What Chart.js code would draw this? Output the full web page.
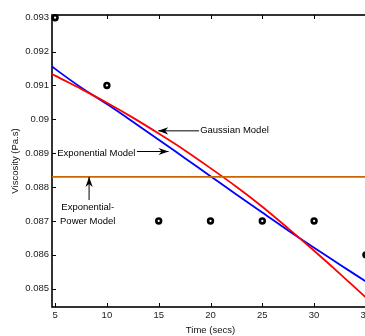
<!DOCTYPE html>
<html>
<head>
<meta charset="utf-8">
<script src="https://cdn.jsdelivr.net/npm/chart.js@4"></script>
<style>
  html, body { margin: 0; padding: 0; background: #fff; overflow: hidden; width: 365px; height: 336px; }
  #wrap { width: 390px; height: 336px; }
</style>
</head>
<body>
<div id="wrap"><canvas id="chart" width="390" height="336"></canvas></div>
<script>
// measured viscosity
const obsTime = [5, 10, 15, 20, 25, 30, 35];
const obsViscosity = [0.093, 0.091, 0.087, 0.087, 0.087, 0.087, 0.086];

// fitted model curves
const fitTime = [4.7, 5, 7.5, 10, 12.5, 15, 17.5, 20, 22.5, 25, 27.5, 30, 32.5, 35, 35.3];
const gaussianFit = [0.09134, 0.09129, 0.09090, 0.09049, 0.09005, 0.08958, 0.08909, 0.08856,
  0.08801, 0.08742, 0.08678, 0.08612, 0.08544, 0.08474, 0.08466];
const exponentialFit = [0.09156, 0.09149, 0.09094, 0.09045, 0.08993, 0.08940, 0.08886, 0.08832,
  0.08778, 0.08725, 0.08672, 0.08621, 0.08571, 0.08521, 0.08515];
const powerTime = [4.7, 35.3];
const powerFit = [0.0883, 0.0883];

const xTicks = [5, 10, 15, 20, 25, 30, 35];
const yTicks = [0.085, 0.086, 0.087, 0.088, 0.089, 0.09, 0.091, 0.092, 0.093];

const pairs = (xs, ys) => xs.map((x, i) => ({ x: x, y: ys[i] }));

const FONT = { family: "'Liberation Sans', Arial, sans-serif", size: 9.5 };
Chart.defaults.font.family = FONT.family;
Chart.defaults.font.size = FONT.size;
Chart.defaults.color = '#111';

// annotation texts with arrows (anchored in data units)
const notes = [
  { lines: ['Gaussian Model'], at: [19.0, 0.08966], align: 'left', from: [18.9, 0.08966], to: [14.95, 0.08966] },
  { lines: ['Exponential Model'], at: [12.75, 0.08900], align: 'right', from: [12.9, 0.08905], to: [15.95, 0.08905] },
  { lines: ['Exponential-', 'Power Model'], at: [8.15, 0.08740], align: 'center', from: [8.28, 0.08762], to: [8.28, 0.0883] },
];

function arrow(ctx, x1, y1, x2, y2) {
  ctx.beginPath();
  ctx.moveTo(x1, y1);
  ctx.lineTo(x2, y2);
  ctx.stroke();
  const ang = Math.atan2(y2 - y1, x2 - x1);
  const len = 10, half = 3.6;
  ctx.save();
  ctx.translate(x2, y2);
  ctx.rotate(ang);
  ctx.beginPath();
  ctx.moveTo(0, 0);
  ctx.lineTo(-len, -half);
  ctx.lineTo(-len * 0.7, 0);
  ctx.lineTo(-len, half);
  ctx.closePath();
  ctx.fill();
  ctx.restore();
}

const frame = {
  id: 'frame',
  beforeDatasetsDraw(chart) {
    const { ctx, chartArea: a, scales: { x, y } } = chart;
    ctx.save();
    ctx.strokeStyle = '#000';
    ctx.lineWidth = 1;
    ctx.beginPath();
    xTicks.forEach(v => {
      const px = Math.round(x.getPixelForValue(v)) + 0.5;
      ctx.moveTo(px, a.bottom); ctx.lineTo(px, a.bottom - 4);
      ctx.moveTo(px, a.top); ctx.lineTo(px, a.top + 4);
    });
    yTicks.forEach(v => {
      const py = Math.round(y.getPixelForValue(v)) + 0.5;
      ctx.moveTo(a.left, py); ctx.lineTo(a.left + 4, py);
      ctx.moveTo(a.right, py); ctx.lineTo(a.right - 4, py);
    });
    ctx.stroke();
    ctx.lineWidth = 1.6;
    ctx.strokeRect(a.left, a.top, a.right - a.left, a.bottom - a.top);
    ctx.restore();
  },
  afterDatasetsDraw(chart) {
    const { ctx, scales: { x, y } } = chart;
    ctx.save();
    ctx.fillStyle = '#000';
    ctx.strokeStyle = '#000';
    ctx.lineWidth = 1;
    ctx.font = FONT.size + 'px ' + FONT.family;
    ctx.textBaseline = 'middle';
    notes.forEach(n => {
      arrow(ctx, x.getPixelForValue(n.from[0]), y.getPixelForValue(n.from[1]),
        x.getPixelForValue(n.to[0]), y.getPixelForValue(n.to[1]));
      ctx.textAlign = n.align;
      const tx = x.getPixelForValue(n.at[0]);
      const ty = y.getPixelForValue(n.at[1]);
      n.lines.forEach((t, i) => ctx.fillText(t, tx, ty + i * 13.7));
    });
    ctx.restore();
  }
};

new Chart(document.getElementById('chart'), {
  type: 'scatter',
  data: {
    datasets: [
      {
        label: 'Exponential-Power Model',
        data: pairs(powerTime, powerFit),
        showLine: true, borderColor: '#cc6600', borderWidth: 1.8, pointRadius: 0,
      },
      {
        label: 'Gaussian Model',
        data: pairs(fitTime, gaussianFit),
        showLine: true, borderColor: '#ff0000', borderWidth: 1.8, pointRadius: 0,
        cubicInterpolationMode: 'monotone',
      },
      {
        label: 'Exponential Model',
        data: pairs(fitTime, exponentialFit),
        showLine: true, borderColor: '#0000ff', borderWidth: 1.8, pointRadius: 0,
        cubicInterpolationMode: 'monotone',
      },
      {
        label: 'Measured',
        data: pairs(obsTime, obsViscosity),
        showLine: false, pointRadius: 2.4, borderWidth: 2.6,
        borderColor: '#000', backgroundColor: '#fff', clip: false,
      },
    ],
  },
  options: {
    responsive: false,
    animation: false,
    layout: { padding: { top: 15, right: 21, bottom: 0, left: 0 } },
    plugins: { legend: { display: false }, tooltip: { enabled: false } },
    scales: {
      x: {
        type: 'linear', min: 4.7, max: 35.3,
        afterBuildTicks: s => { s.ticks = xTicks.map(v => ({ value: v })); },
        afterFit: s => { s.height = 29; },
        grid: { display: false, drawTicks: false },
        border: { display: false },
        ticks: { padding: 3, autoSkip: false, maxRotation: 0, color: '#222' },
        title: { display: true, text: 'Time (secs)', padding: { top: 0, bottom: 0 }, color: '#111' },
      },
      y: {
        type: 'linear', min: 0.08446, max: 0.09308,
        afterBuildTicks: s => { s.ticks = yTicks.map(v => ({ value: v })); },
        afterFit: s => { s.width = 52; },
        grid: { display: false, drawTicks: false },
        border: { display: false },
        ticks: { padding: 3, autoSkip: false, color: '#222', callback: v => String(+v.toFixed(3)) },
        title: { display: true, text: 'Viscosity (Pa.s)', padding: { top: 10, bottom: 0 }, color: '#111' },
      },
    },
  },
  plugins: [frame],
});
</script>
</body>
</html>
